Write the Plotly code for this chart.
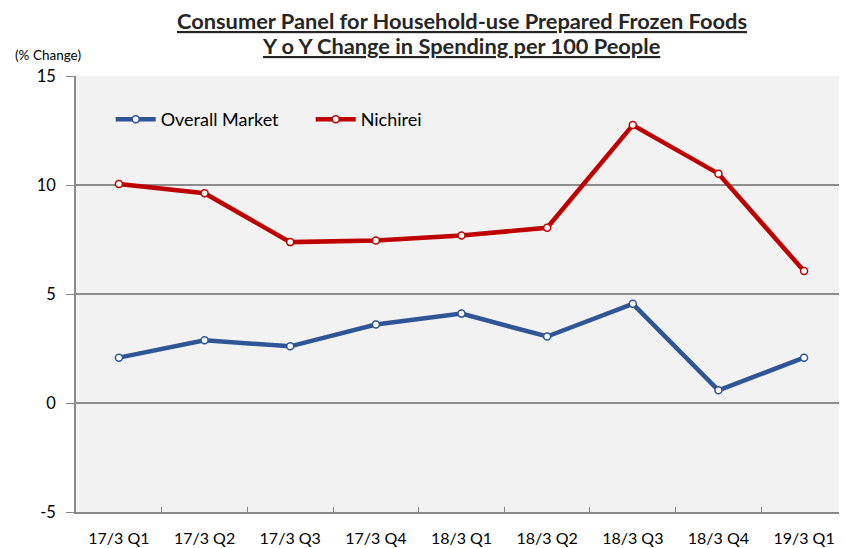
import plotly.graph_objects as go

categories = ["17/3 Q1", "17/3 Q2", "17/3 Q3", "17/3 Q4", "18/3 Q1",
              "18/3 Q2", "18/3 Q3", "18/3 Q4", "19/3 Q1"]
overall_market = [2.08, 2.88, 2.6, 3.6, 4.1, 3.05, 4.55, 0.58, 2.08]
nichirei = [10.05, 9.62, 7.38, 7.45, 7.68, 8.04, 12.75, 10.52, 6.05]
y_ticks = [-5, 0, 5, 10, 15]
y_tick_labels = ["-5", "0", "5", "10", "15"]

FONT = "Lato"

fig = go.Figure()
fig.add_trace(go.Scatter(
    x=categories, y=overall_market, name="Overall Market", mode="lines+markers",
    line=dict(color="#2f5597", width=4.5),
    marker=dict(symbol="circle", size=7, color="white", line=dict(color="#2f5597", width=1.5)),
))
fig.add_trace(go.Scatter(
    x=categories, y=nichirei, name="Nichirei", mode="lines+markers",
    line=dict(color="#c00000", width=4.5),
    marker=dict(symbol="circle", size=7, color="white", line=dict(color="#c00000", width=1.5)),
))

fig.update_layout(
    width=839, height=540,
    margin=dict(l=68, r=0, t=68, b=36, autoexpand=False),
    paper_bgcolor="white",
    plot_bgcolor="#f2f2f2",
    font=dict(family=FONT, color="black"),
    showlegend=True,
    legend=dict(orientation="h", x=0.045, y=0.900, xanchor="left", yanchor="middle",
                bgcolor="rgba(0,0,0,0)", font=dict(size=18, family=FONT),
                itemwidth=40, entrywidth=145, entrywidthmode="pixels"),
    xaxis=dict(
        type="category", tickson="boundaries", ticks="inside", ticklen=5,
        tickcolor="#888", showline=True, linecolor="#888", linewidth=1.5,
        showgrid=False, tickfont=dict(size=16, family=FONT),
        ticklabelstandoff=11, fixedrange=True,
    ),
    yaxis=dict(
        range=[-5, 15], tickvals=y_ticks, ticktext=y_tick_labels, ticks="outside", ticklen=8,
        tickcolor="#888", showline=True, linecolor="#888", linewidth=1.5,
        showgrid=True, gridcolor="#8c8c8c", gridwidth=1.5, zeroline=False,
        tickfont=dict(size=16.5, family=FONT), ticklabelstandoff=7, fixedrange=True,
    ),
    annotations=[
        dict(text="<b><u>Consumer Panel for Household-use Prepared Frozen Foods</u></b>",
             xref="paper", yref="paper", x=0.501, y=1.128, xanchor="center", yanchor="middle",
             showarrow=False, font=dict(size=21.8, family=FONT, color="#262626")),
        dict(text="<b><u>Y o Y Change in Spending per 100 People</u></b>",
             xref="paper", yref="paper", x=0.499, y=1.069, xanchor="center", yanchor="middle",
             showarrow=False, font=dict(size=21.8, family=FONT, color="#262626")),
        dict(text="(% Change)", xref="paper", yref="paper", x=-0.0817, y=1.048,
             xanchor="left", yanchor="middle", showarrow=False,
             font=dict(size=13.5, family=FONT)),
    ],
)

fig.write_html("out.html")
